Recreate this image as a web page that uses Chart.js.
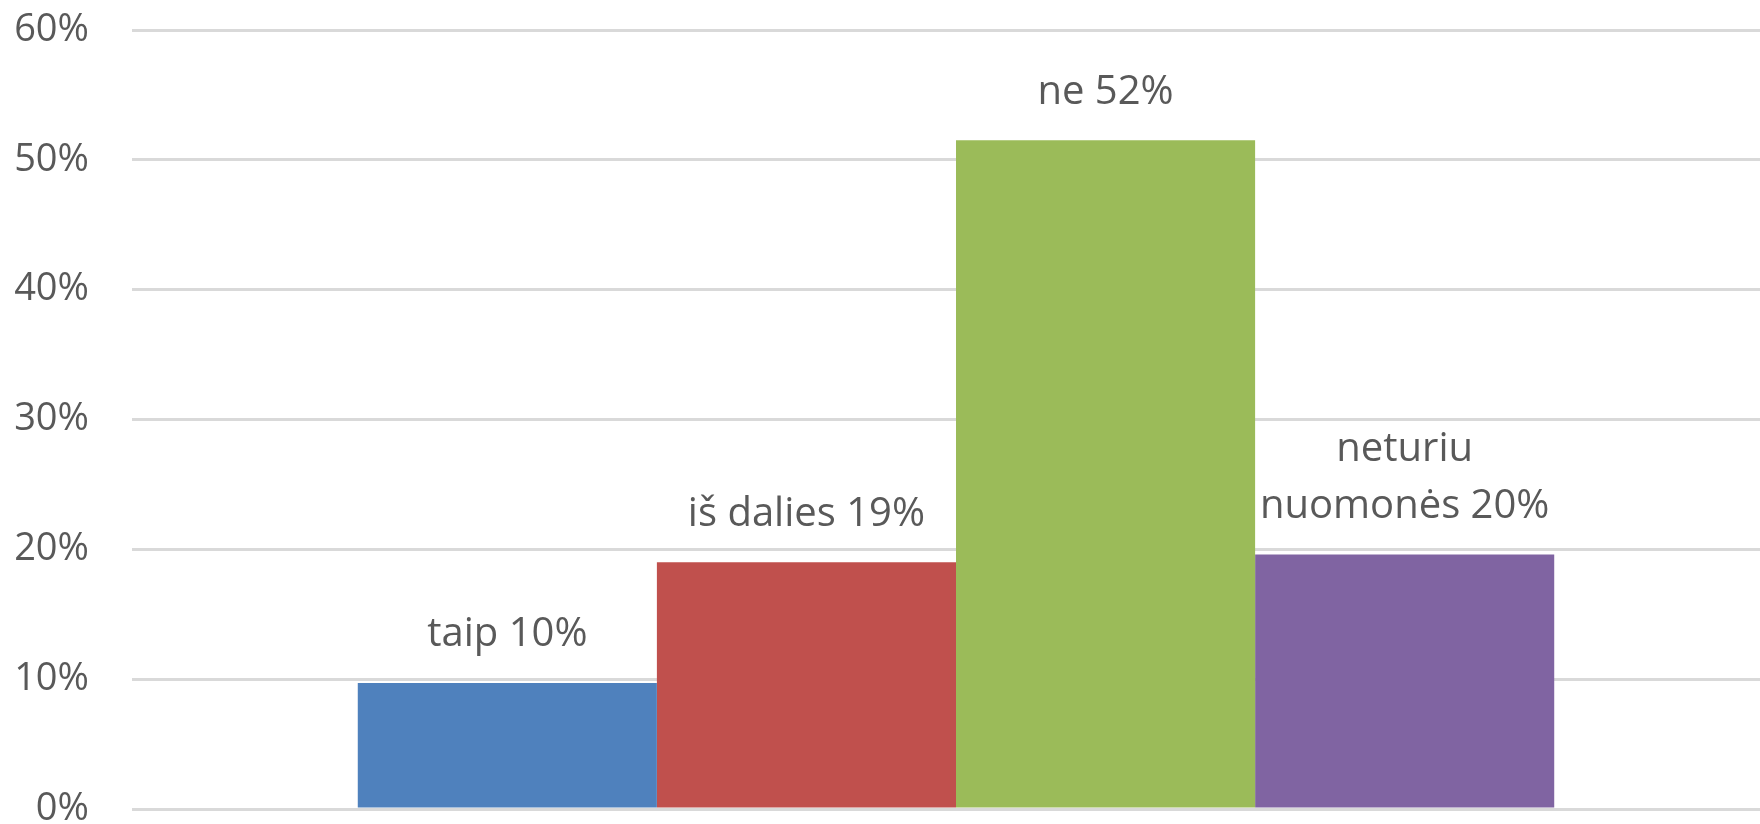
<!DOCTYPE html>
<html>
<head>
<meta charset="utf-8">
<script src="https://cdn.jsdelivr.net/npm/chart.js@4/dist/chart.umd.min.js"></script>
<style>
  html, body { margin: 0; padding: 0; background: #fff; overflow: hidden; }
  #wrap { width: 1780px; height: 824px; }
</style>
</head>
<body>
<div id="wrap"><canvas id="myChart"></canvas></div>
<script>
// answers and their share (percent)
const names = ['taip', 'iš dalies', 'ne', 'neturiu\nnuomonės'];
const values = [9.7, 19.0, 51.5, 19.6];
const colors = ['#4F81BD', '#C0504D', '#9BBB59', '#8064A2'];
const yTicks = [0, 10, 20, 30, 40, 50, 60];

const FONT = '"Open Sans", "Liberation Sans", sans-serif';

// labels above each bar, e.g. "taip 10%"
const barLabels = {
    id: 'barLabels',
    afterDatasetsDraw(chart) {
        const ctx = chart.ctx;
        ctx.save();
        ctx.font = '40px ' + FONT;
        ctx.fillStyle = '#595959';
        ctx.textAlign = 'center';
        ctx.textBaseline = 'middle';
        chart.data.datasets.forEach((ds, i) => {
            const bar = chart.getDatasetMeta(i).data[0];
            const lines = (names[i] + ' ' + Math.round(values[i]) + '%').split('\n');
            const lineH = 57;
            let y = bar.y - 48 - (lines.length - 1) * lineH;
            for (const line of lines) {
                ctx.fillText(line, bar.x, y);
                y += lineH;
            }
        });
        ctx.restore();
    }
};

const datasets = [];
for (let i = 0; i < names.length; i++) {
    datasets.push({
        label: names[i],
        data: [values[i]],
        backgroundColor: colors[i],
        borderWidth: 0,
        barPercentage: 1,
        categoryPercentage: 0.726
    });
}

const ctx = document.getElementById('myChart').getContext('2d');
new Chart(ctx, {
    type: 'bar',
    data: { labels: [''], datasets: datasets },
    options: {
        responsive: true,
        maintainAspectRatio: false,
        animation: false,
        layout: { padding: { left: 12, right: 0, top: 30, bottom: 15 } },
        plugins: {
            legend: { display: false },
            tooltip: { enabled: false }
        },
        scales: {
            x: { display: false },
            y: {
                min: 0,
                max: 60,
                afterBuildTicks(axis) {
                    axis.ticks = yTicks.map(v => ({ value: v }));
                },
                afterFit(axis) {
                    axis.width = 120;
                    axis.paddingTop = 0;
                    axis.paddingBottom = 0;
                },
                ticks: {
                    color: '#595959',
                    font: { family: FONT, size: 38 },
                    padding: 43,
                    callback: v => v + '%'
                },
                grid: {
                    color: '#D9D9D9',
                    lineWidth: 3,
                    drawTicks: false
                },
                border: { display: false }
            }
        }
    },
    plugins: [barLabels]
});
</script>
</body>
</html>
